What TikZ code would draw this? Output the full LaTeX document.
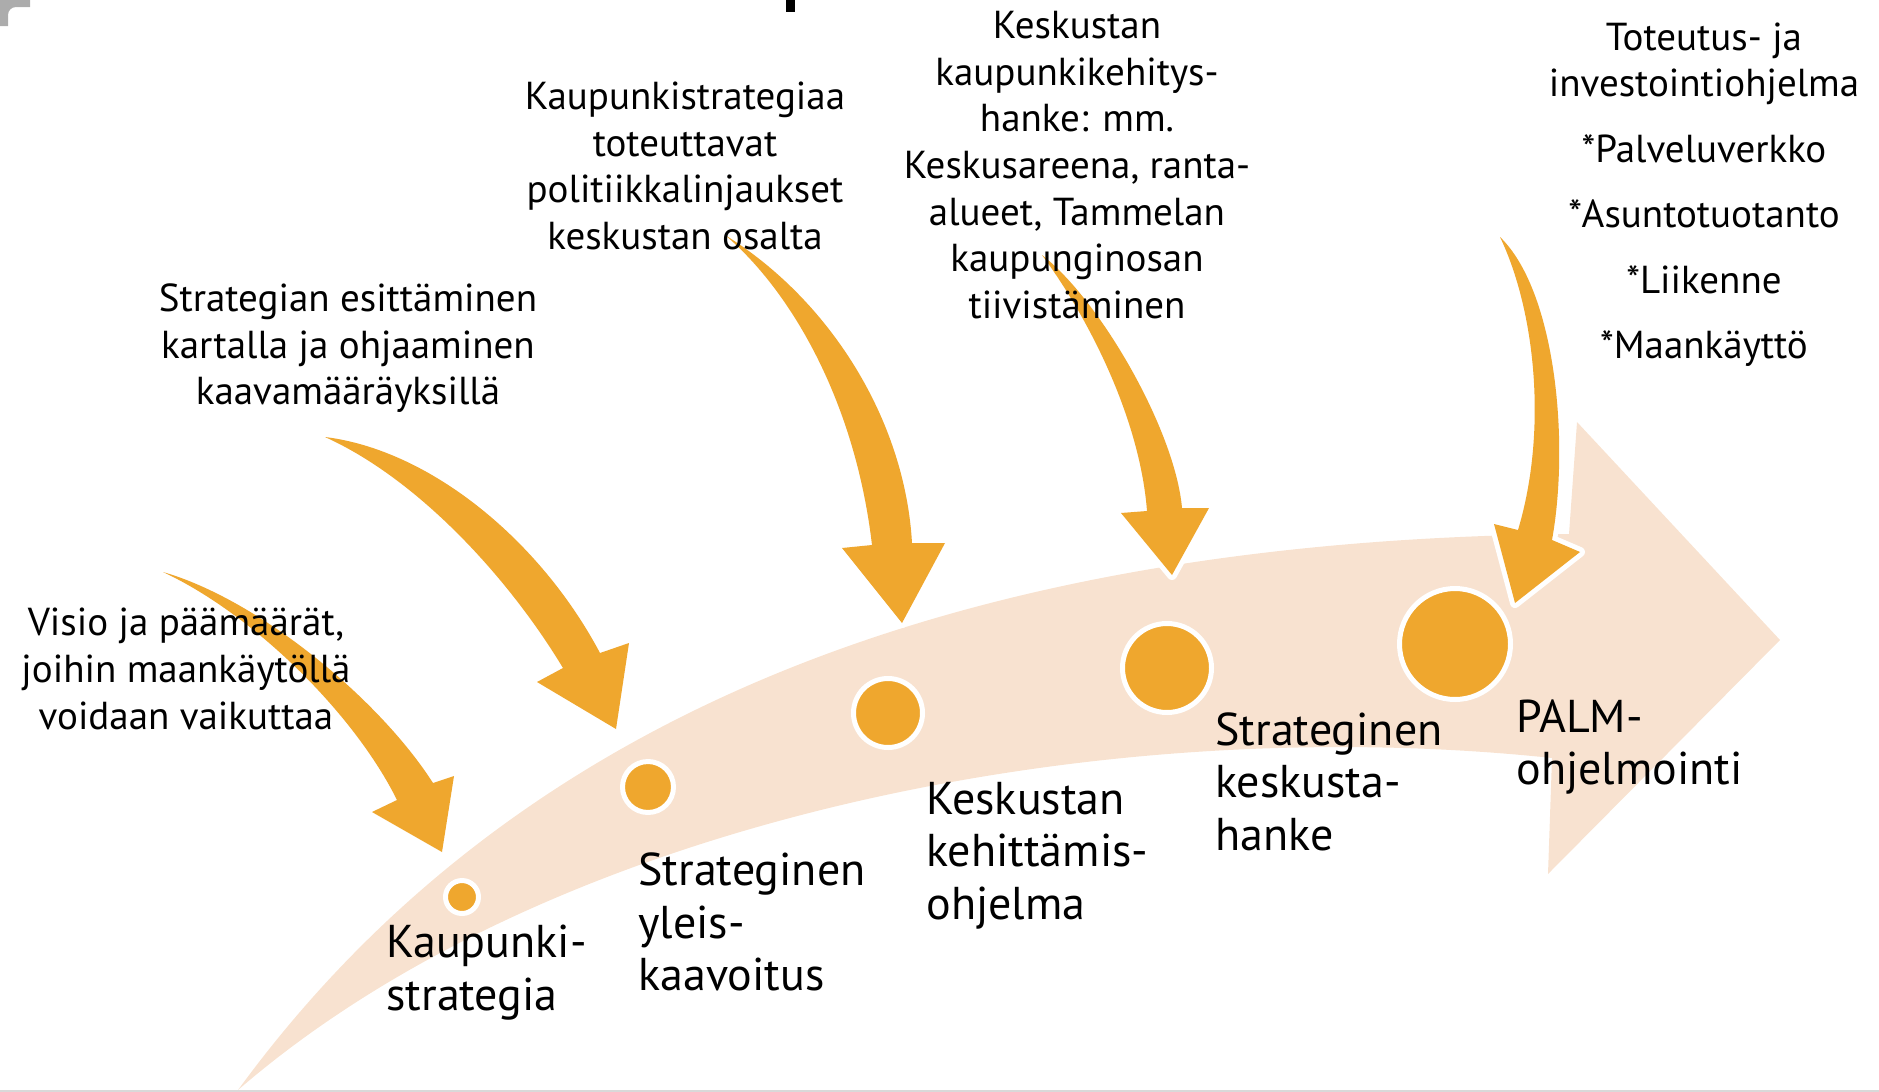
\documentclass[tikz,border=0pt]{standalone}
\usepackage{fontspec}
\setmainfont{PT Sans}
\usetikzlibrary{positioning}
\definecolor{bandfill}{RGB}{248,226,208}
\definecolor{goldarrow}{RGB}{239,167,46}
\tikzset{
    milestone/.style={circle, fill=goldarrow, draw=white, line width=2.5pt, inner sep=0pt},
    bentarrow/.style={fill=goldarrow, preaction={draw=white, line width=5pt, line join=round}},
    topnote/.style={align=center, inner sep=0pt, font=\fontsize{19.5}{23.3}\selectfont},
    steplabel/.style={align=left, anchor=west, inner sep=0pt, font=\fontsize{23}{26.3}\selectfont}
}

\begin{document}
\begin{tikzpicture}[x=0.5pt, y=-0.5pt]
  \useasboundingbox (0,0) rectangle (1879,1092);

  % leftovers of the slide
  \fill[gray!65] (0,0) -- (30,0) -- (30,7) -- (16,7) to[out=180,in=90] (8,15) -- (8,26) -- (0,26) -- cycle;
  \fill[black] (786,0) rectangle (795,12);
  \draw[black!15, line width=1pt] (0,1091) -- (1879,1091);

  % big curved band
  \fill[bandfill] (238,1090) .. controls (530,690) and (1000,540) .. (1569,534)
    -- (1577,422) -- (1780,640) -- (1548,874) -- (1552,758)
    .. controls (1100,710) and (550,820) .. (238,1090) -- cycle;

  \node[milestone, minimum size=16.5pt] (c1) at (462,897) {};
  \node[milestone, minimum size=25.5pt] (c2) at (648,787) {};
  \node[milestone, minimum size=34.5pt] (c3) at (888,713) {};
  \node[milestone, minimum size=44.5pt] (c4) at (1167,668) {};
  \node[milestone, minimum size=55.5pt] (c5) at (1455,644) {};

  % bent arrows
  \fill[bentarrow] (163,572) .. controls (260,600) and (380,700) .. (433,783)
    -- (454,776) -- (442,852) -- (372,812) -- (397,800)
    .. controls (355,715) and (255,615) .. (163,572) -- cycle;
  \fill[bentarrow] (325,437) .. controls (430,450) and (540,540) .. (600,653)
    -- (629,643) -- (616,729) -- (537,682) -- (563,668)
    .. controls (510,580) and (420,480) .. (325,437) -- cycle;
  \fill[bentarrow] (725,235) .. controls (830,300) and (905,420) .. (912,543)
    -- (945,543) -- (902,623) -- (842,548) -- (872,545)
    .. controls (855,400) and (790,290) .. (725,235) -- cycle;
  \fill[bentarrow] (1042,255) .. controls (1100,300) and (1175,430) .. (1182,508)
    -- (1209,508) -- (1172,575) -- (1121,513) -- (1147,511)
    .. controls (1140,420) and (1090,320) .. (1042,255) -- cycle;
  \fill[bentarrow] (1500,237) .. controls (1555,290) and (1570,440) .. (1552,540)
    -- (1580,552) -- (1515,603) -- (1494,524) -- (1518,530)
    .. controls (1548,430) and (1535,310) .. (1500,237) -- cycle;

  % texts above
  \node[topnote] (visio) at (186,669) {Visio ja päämäärät,\\joihin maankäytöllä\\voidaan vaikuttaa};
  \node[topnote] (kartta) at (348,348.5) {Strategian esittäminen\\kartalla ja ohjaaminen\\kaavamääräyksillä};
  \node[topnote] (linjaus) at (685,166) {Kaupunkistrategiaa\\toteuttavat\\politiikkalinjaukset\\keskustan osalta};
  \node[topnote] (hanke) at (1077,165) {Keskustan\\kaupunkikehitys-\\hanke: mm.\\Keskusareena, ranta-\\alueet, Tammelan\\kaupunginosan\\tiivistäminen};
  \node[topnote] (ohjelma) at (1704,194.5) {Toteutus- ja\\investointiohjelma\\[9.4pt]*Palveluverkko\\[9.4pt]*Asuntotuotanto\\[9.4pt]*Liikenne\\[9.4pt]*Maankäyttö};

  % step labels
  \node[steplabel] (l1) at (386,972.5) {Kaupunki-\\strategia};
  \node[steplabel] (l2) at (638,922) {Strateginen\\yleis-\\kaavoitus};
  \node[steplabel] (l3) at (926,855.5) {Keskustan\\kehittämis-\\ohjelma};
  \node[steplabel] (l4) at (1215,781.5) {Strateginen\\keskusta-\\hanke};
  \node[steplabel] (l5) at (1516,747) {PALM-\\ohjelmointi};
\end{tikzpicture}
\end{document}
